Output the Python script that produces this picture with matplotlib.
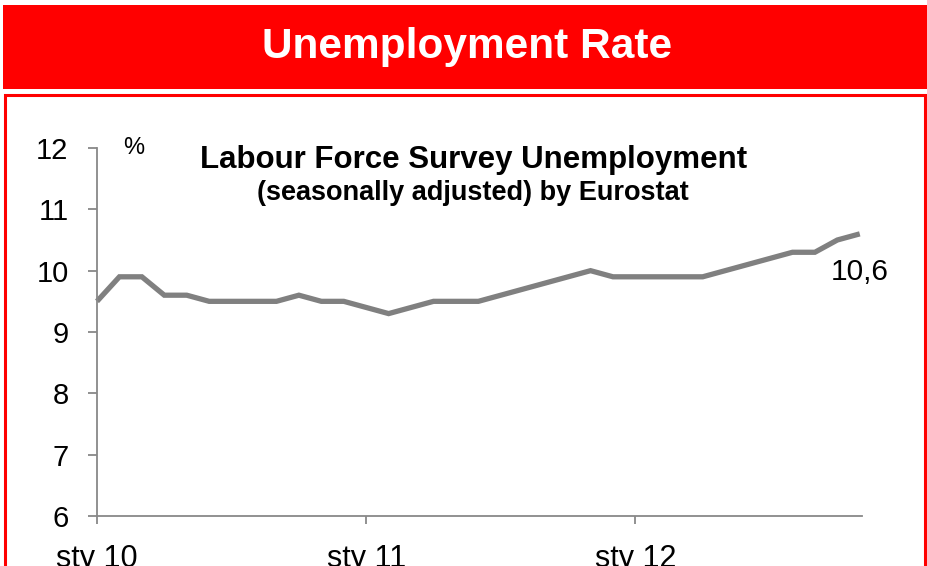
import matplotlib
matplotlib.use("Agg")
import matplotlib.pyplot as plt
from matplotlib.patches import Rectangle

plt.rcParams['font.family'] = ['Liberation Sans', 'DejaVu Sans']

# Monthly unemployment rate, Jan 2010 - Nov 2012 (seasonally adjusted, %)
rate_2010 = [9.5, 9.9, 9.9, 9.6, 9.6, 9.5, 9.5, 9.5, 9.5, 9.6, 9.5, 9.5]
rate_2011 = [9.4, 9.3, 9.4, 9.5, 9.5, 9.5, 9.6, 9.7, 9.8, 9.9, 10.0, 9.9]
rate_2012 = [9.9, 9.9, 9.9, 9.9, 10.0, 10.1, 10.2, 10.3, 10.3, 10.5, 10.6]
rates = rate_2010 + rate_2011 + rate_2012
months = list(range(len(rates)))

x_tick_pos = [0, 12, 24]
x_tick_labels = ["sty 10", "sty 11", "sty 12"]
y_ticks = [6, 7, 8, 9, 10, 11, 12]

W, H = 927, 566
fig = plt.figure(figsize=(W / 100, H / 100), dpi=100)


def fx(px):
    return px / W


def fy(py):
    return 1 - py / H


# red header banner
fig.patches.append(Rectangle((fx(3), fy(89)), fx(927) - fx(3), fy(5) - fy(89),
                             transform=fig.transFigure, facecolor="#FF0000",
                             edgecolor="none", zorder=0))
fig.text(fx(467), fy(47), "Unemployment Rate", color="white", fontsize=30.5,
         fontweight="bold", ha="center", va="center")

# red frame around the chart panel
fig.patches.append(Rectangle((fx(4.5), fy(600)), fx(925) - fx(4.5), fy(94.5) - fy(600),
                             transform=fig.transFigure, facecolor="none",
                             edgecolor="#FF0000", linewidth=2.2, zorder=0))

ax = fig.add_axes([fx(97), fy(516), fx(862) - fx(97), fy(148) - fy(516)])
ax.plot(months, rates, color="#808080", linewidth=3.8, solid_joinstyle="miter",
        solid_capstyle="butt", clip_on=False)

ax.set_xlim(0, 34.1)
ax.set_ylim(6, 12)
ax.set_yticks(y_ticks)
ax.set_yticklabels([str(v) for v in y_ticks])
ax.set_xticks(x_tick_pos)
ax.set_xticklabels(x_tick_labels)

for side in ("top", "right"):
    ax.spines[side].set_visible(False)
for side in ("left", "bottom"):
    ax.spines[side].set_color("#888888")
    ax.spines[side].set_linewidth(1.3)

ax.tick_params(axis="y", direction="out", length=6.5, width=1.3, color="#888888",
               labelsize=21, pad=14)
ax.tick_params(axis="x", direction="out", length=6, width=1.3, color="#888888",
               labelsize=22, pad=14)

fig.text(fx(134), fy(148), "%", fontsize=17, ha="center", va="center")
fig.text(fx(473.5), fy(160), "Labour Force Survey Unemployment", fontsize=22.5,
         fontweight="bold", ha="center", va="center")
fig.text(fx(472.5), fy(193), "(seasonally adjusted) by Eurostat", fontsize=19.5,
         fontweight="bold", ha="center", va="center")

ax.annotate(f"{rates[-1]:.1f}".replace(".", ","), xy=(months[-1], rates[-1]),
            xytext=(0, -38), textcoords="offset pixels", fontsize=21.5,
            ha="center", va="center")

fig.savefig("out.png", dpi=100)
